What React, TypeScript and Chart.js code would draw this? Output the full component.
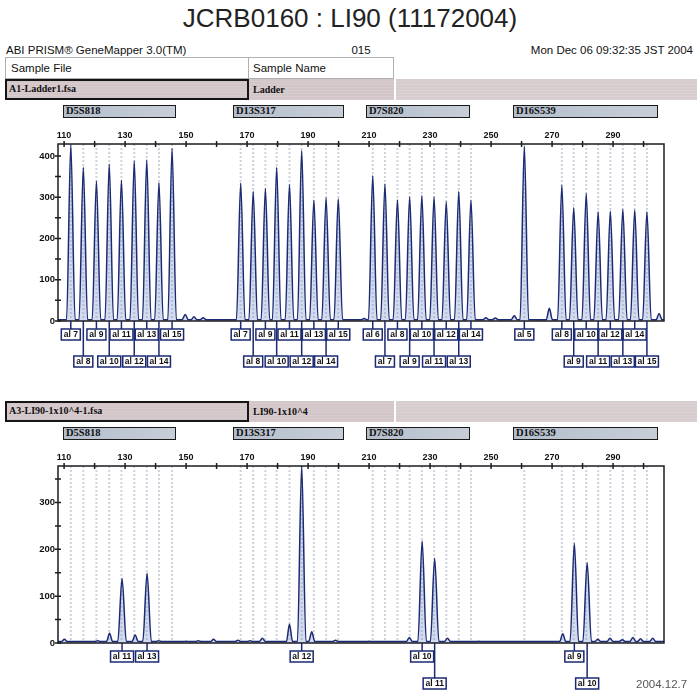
import React, { useEffect, useRef } from 'react';
import { Chart, registerables } from 'chart.js';

Chart.register(...registerables);

// ---------------- data ----------------
const markerNames = ['D5S818', 'D13S317', 'D7S820', 'D16S539'];

const d5s818Alleles = ['7', '8', '9', '10', '11', '12', '13', '14', '15'];
const d5s818Sizes = [112.2, 116.3, 120.6, 124.8, 128.8, 133.0, 137.1, 141.1, 145.4];
const d5s818LadderHeights = [427, 372, 339, 380, 341, 388, 390, 335, 418];

const d13s317Alleles = ['7', '8', '9', '10', '11', '12', '13', '14', '15'];
const d13s317Sizes = [167.9, 172.0, 176.0, 179.7, 183.9, 187.9, 191.9, 195.9, 199.9];
const d13s317LadderHeights = [334, 314, 321, 372, 331, 413, 293, 299, 296];

const d7s820Alleles = ['6', '7', '8', '9', '10', '11', '12', '13', '14'];
const d7s820Sizes = [211.2, 215.2, 219.3, 223.3, 227.3, 231.3, 235.3, 239.4, 243.4];
const d7s820LadderHeights = [352, 332, 294, 301, 304, 301, 289, 314, 293];

const d16s539Alleles = ['5', '8', '9', '10', '11', '12', '13', '14', '15'];
const d16s539Sizes = [260.9, 273.2, 277.1, 281.2, 285.1, 289.1, 293.2, 297.1, 301.1];
const d16s539LadderHeights = [423, 329, 275, 309, 265, 266, 271, 269, 265];

const ladderArtifactSizes = [149.7, 152.6, 155.6, 208.4, 248.3, 251.4, 257.6, 269.1, 305.1];
const ladderArtifactHeights = [16, 10, 8, 6, 8, 7, 13, 31, 18];

const sampleCallAlleles = ['11', '13', '12', '10', '11', '9', '10'];
const sampleCallSizes = [129.0, 137.2, 187.9, 227.4, 231.5, 277.3, 281.5];
const sampleCallHeights = [138, 149, 378, 218, 181, 213, 172];

const sampleArtifactSizes = [110.1, 121.0, 124.9, 133.3, 141.0, 150.0, 154.0, 159.0, 167.0, 171.0, 175.0, 183.9, 191.2, 199.0, 210.0, 223.2, 235.7, 246.0, 273.5, 285.0, 289.0, 293.0, 296.5, 299.0, 303.0];
const sampleArtifactHeights = [8, 5, 21, 17, 5, 4, 5, 8, 6, 5, 10, 40, 24, 6, 4, 12, 10, 4, 20, 8, 10, 7, 12, 9, 10];

const xMin = 108;
const xMax = 306.7;
const ladderYMax = 429;
const sampleYMax = 378;
const baselineLevel = 3;

// ---------------- helpers ----------------
const ladderSizes = [...d5s818Sizes, ...d13s317Sizes, ...d7s820Sizes, ...d16s539Sizes];
const ladderAlleles = [...d5s818Alleles, ...d13s317Alleles, ...d7s820Alleles, ...d16s539Alleles];
const ladderHeights = [...d5s818LadderHeights, ...d13s317LadderHeights, ...d7s820LadderHeights, ...d16s539LadderHeights];

function buildTrace(sizes: number[], heights: number[]) {
  const peaks = sizes.map((s, i) => ({ s, h: heights[i] })).sort((a, b) => a.s - b.s);
  const pts: { x: number; y: number }[] = [{ x: xMin, y: baselineLevel }];
  for (const p of peaks) {
    const w = p.h > 60 ? 1.4 : 1.0;
    pts.push({ x: p.s - w, y: baselineLevel }, { x: p.s, y: p.h }, { x: p.s + w, y: baselineLevel });
  }
  pts.push({ x: xMax, y: baselineLevel });
  return pts;
}

const FONT = '"Liberation Sans", Arial, Helvetica, sans-serif';
const SERIF = '"Liberation Serif", "Times New Roman", serif';
const TRACE_COLOR = '#1b2a72';

function overlayPlugin(bins: number[], callSizes: number[], callLabels: string[]) {
  return {
    id: 'gmOverlay',
    beforeDatasetsDraw(chart: any) {
      const { ctx, chartArea: a } = chart;
      const xs = chart.scales.x;
      ctx.save();
      ctx.strokeStyle = 'rgba(190,195,205,0.75)';
      ctx.lineWidth = 2;
      ctx.setLineDash([2, 2]);
      for (const b of bins) {
        const px = xs.getPixelForValue(b);
        ctx.beginPath();
        ctx.moveTo(px, a.top);
        ctx.lineTo(px, a.bottom);
        ctx.stroke();
      }
      ctx.restore();
    },
    afterDatasetsDraw(chart: any) {
      const { ctx, chartArea: a } = chart;
      const xs = chart.scales.x;
      const ys = chart.scales.y;
      ctx.save();
      ctx.strokeStyle = '#1c1c22';
      ctx.lineWidth = 1.5;
      ctx.strokeRect(a.left, a.top, a.right - a.left, a.bottom - a.top);
      ctx.beginPath();
      for (const t of xs.ticks) {
        const px = xs.getPixelForValue(t.value);
        ctx.moveTo(px, a.top - 3);
        ctx.lineTo(px, a.top + 3);
      }
      for (const t of ys.ticks) {
        const py = ys.getPixelForValue(t.value);
        ctx.moveTo(a.left - 3, py);
        ctx.lineTo(a.left + 3, py);
      }
      ctx.stroke();

      // allele call boxes
      const items = callSizes
        .map((s, i) => ({ x: xs.getPixelForValue(s), label: 'al ' + callLabels[i] }))
        .sort((p, q) => p.x - q.x);
      ctx.font = 'bold 8.5px ' + FONT;
      ctx.textAlign = 'center';
      ctx.textBaseline = 'middle';
      let rowOneRight = -Infinity;
      for (const it of items) {
        const w = Math.ceil(ctx.measureText(it.label).width) + 4;
        const h = 11;
        const left = it.x - w / 2;
        let row = 0;
        if (left < rowOneRight) row = 1;
        else rowOneRight = left + w;
        const top = a.bottom + (row === 0 ? 8 : 35);
        ctx.strokeStyle = TRACE_COLOR;
        ctx.lineWidth = 1.5;
        ctx.beginPath();
        ctx.moveTo(it.x, a.bottom);
        ctx.lineTo(it.x, top);
        ctx.stroke();
        ctx.fillStyle = '#ffffff';
        ctx.fillRect(left, top, w, h);
        ctx.strokeRect(left, top, w, h);
        ctx.fillStyle = '#111111';
        ctx.fillText(it.label, it.x, top + h / 2 + 0.5);
      }
      ctx.restore();
    },
  };
}

function makeChart(
  canvas: HTMLCanvasElement,
  trace: { x: number; y: number }[],
  yMax: number,
  bottomPad: number,
  callSizes: number[],
  callLabels: string[]
) {
  return new Chart(canvas, {
    type: 'line',
    data: {
      datasets: [
        {
          data: trace,
          borderColor: TRACE_COLOR,
          borderWidth: 1.5,
          backgroundColor: 'rgba(120,145,205,0.33)',
          fill: 'origin',
          pointRadius: 0,
          cubicInterpolationMode: 'monotone',
        } as any,
      ],
    },
    options: {
      responsive: false,
      animation: false,
      events: [],
      layout: { padding: { left: 0, top: 0, right: 36, bottom: bottomPad } },
      plugins: { legend: { display: false }, tooltip: { enabled: false }, title: { display: false } },
      scales: {
        x: {
          type: 'linear',
          position: 'top',
          min: xMin,
          max: xMax,
          afterFit: (s: any) => {
            s.height = 24;
          },
          grid: { display: false, drawTicks: false },
          border: { display: false },
          ticks: {
            stepSize: 10,
            includeBounds: false,
            autoSkip: false,
            maxRotation: 0,
            padding: 3,
            color: '#111',
            font: { size: 9, weight: 'bold', family: FONT },
            callback: (v: any) => {
              const n = Math.round(Number(v));
              return (n - 110) % 20 === 0 ? String(n) : '';
            },
          },
        },
        y: {
          type: 'linear',
          min: 0,
          max: yMax,
          afterFit: (s: any) => {
            s.width = 58;
          },
          grid: { display: false, drawTicks: false },
          border: { display: false },
          ticks: {
            stepSize: 50,
            includeBounds: false,
            autoSkip: false,
            padding: 3,
            color: '#111',
            font: { size: 9.5, weight: 'bold', family: FONT },
            callback: (v: any) => {
              const n = Math.round(Number(v));
              return n % 100 === 0 ? String(n) : '';
            },
          },
        },
      },
    } as any,
    plugins: [overlayPlugin(ladderSizes, callSizes, callLabels)],
  });
}

// ---------------- layout pieces ----------------
const markerBoxLeft = [63, 233, 366, 513];
const markerBoxRight = [176, 344, 470, 658];

const pinkBg =
  'repeating-linear-gradient(180deg, #d1c7c9 0px, #d1c7c9 2px, #dccbce 2px, #dccbce 3px)';

function SampleRow({ top, file, name }: { top: number; file: string; name: string }) {
  return (
    <>
      <div
        style={{
          position: 'absolute', left: 5, top, width: 244, height: 21, boxSizing: 'border-box',
          border: '2.5px solid #151515', background: pinkBg, fontFamily: SERIF, fontWeight: 'bold',
          fontSize: 10, lineHeight: '16px', paddingLeft: 2, color: '#111', whiteSpace: 'nowrap',
        }}
      >
        {file}
      </div>
      <div
        style={{
          position: 'absolute', left: 249, top, width: 145, height: 21, boxSizing: 'border-box',
          background: pinkBg, fontFamily: SERIF, fontWeight: 'bold', fontSize: 10, lineHeight: '21px',
          paddingLeft: 4, color: '#111', whiteSpace: 'nowrap',
        }}
      >
        {name}
      </div>
      <div style={{ position: 'absolute', left: 396, top, width: 301, height: 21, background: pinkBg, opacity: 0.9 }} />
    </>
  );
}

function MarkerRow({ top }: { top: number }) {
  return (
    <>
      {markerNames.map((m, i) => (
        <div
          key={m}
          style={{
            position: 'absolute', left: markerBoxLeft[i], top, width: markerBoxRight[i] - markerBoxLeft[i],
            height: 13, boxSizing: 'border-box', border: '1.5px solid #1a1a1a',
            background: 'linear-gradient(90deg, #b4becb, #c7ced8)', fontFamily: SERIF, fontWeight: 'bold',
            fontSize: 10.5, lineHeight: '10px', paddingLeft: 2, color: '#111', whiteSpace: 'nowrap',
          }}
        >
          {m}
        </div>
      ))}
    </>
  );
}

export default function App() {
  const topRef = useRef<HTMLCanvasElement>(null);
  const botRef = useRef<HTMLCanvasElement>(null);

  useEffect(() => {
    const c1 = makeChart(
      topRef.current!,
      buildTrace([...ladderSizes, ...ladderArtifactSizes], [...ladderHeights, ...ladderArtifactHeights]),
      ladderYMax,
      54,
      ladderSizes,
      ladderAlleles
    );
    const c2 = makeChart(
      botRef.current!,
      buildTrace([...sampleCallSizes, ...sampleArtifactSizes], [...sampleCallHeights, ...sampleArtifactHeights]),
      sampleYMax,
      57,
      sampleCallSizes,
      sampleCallAlleles
    );
    return () => {
      c1.destroy();
      c2.destroy();
    };
  }, []);

  const small: React.CSSProperties = {
    position: 'absolute', top: 43, fontSize: 11.5, lineHeight: '14px', color: '#111', whiteSpace: 'nowrap',
  };

  return (
    <div
      style={{
        position: 'absolute', left: 0, top: 0, width: 700, height: 700, background: '#fff',
        overflow: 'hidden', fontFamily: FONT,
      }}
    >
      <div
        style={{
          position: 'absolute', left: 0, top: 3, width: 700, textAlign: 'center', fontSize: 26,
          lineHeight: '30px', color: '#222', whiteSpace: 'nowrap',
        }}
      >
        JCRB0160 : LI90 (11172004)
      </div>
      <div style={{ ...small, left: 6 }}>ABI PRISM® GeneMapper 3.0(TM)</div>
      <div style={{ ...small, left: 341, width: 40, textAlign: 'center' }}>015</div>
      <div style={{ ...small, right: 7 }}>Mon Dec 06 09:32:35 JST 2004</div>

      <div
        style={{
          position: 'absolute', left: 5, top: 57, width: 244, height: 22, boxSizing: 'border-box',
          border: '1px solid #b0b0b0', background: '#fff', fontSize: 11.5, lineHeight: '20px',
          paddingLeft: 5, color: '#111',
        }}
      >
        Sample File
      </div>
      <div
        style={{
          position: 'absolute', left: 248, top: 57, width: 146, height: 22, boxSizing: 'border-box',
          border: '1px solid #b0b0b0', background: '#fff', fontSize: 11.5, lineHeight: '20px',
          paddingLeft: 4, color: '#111',
        }}
      >
        Sample Name
      </div>

      <SampleRow top={79} file="A1-Ladder1.fsa" name="Ladder" />
      <MarkerRow top={105} />

      <canvas
        ref={topRef}
        width={700}
        height={255}
        style={{ position: 'absolute', left: 0, top: 120, width: 700, height: 255 }}
      />

      <SampleRow top={401} file="A3-LI90-1x10^4-1.fsa" name="LI90-1x10^4" />
      <MarkerRow top={427} />

      <canvas
        ref={botRef}
        width={700}
        height={258}
        style={{ position: 'absolute', left: 0, top: 442, width: 700, height: 258 }}
      />

      <div
        style={{
          position: 'absolute', left: 636, top: 677, fontSize: 11.5, lineHeight: '14px', color: '#555',
          whiteSpace: 'nowrap',
        }}
      >
        2004.12.7
      </div>
    </div>
  );
}
